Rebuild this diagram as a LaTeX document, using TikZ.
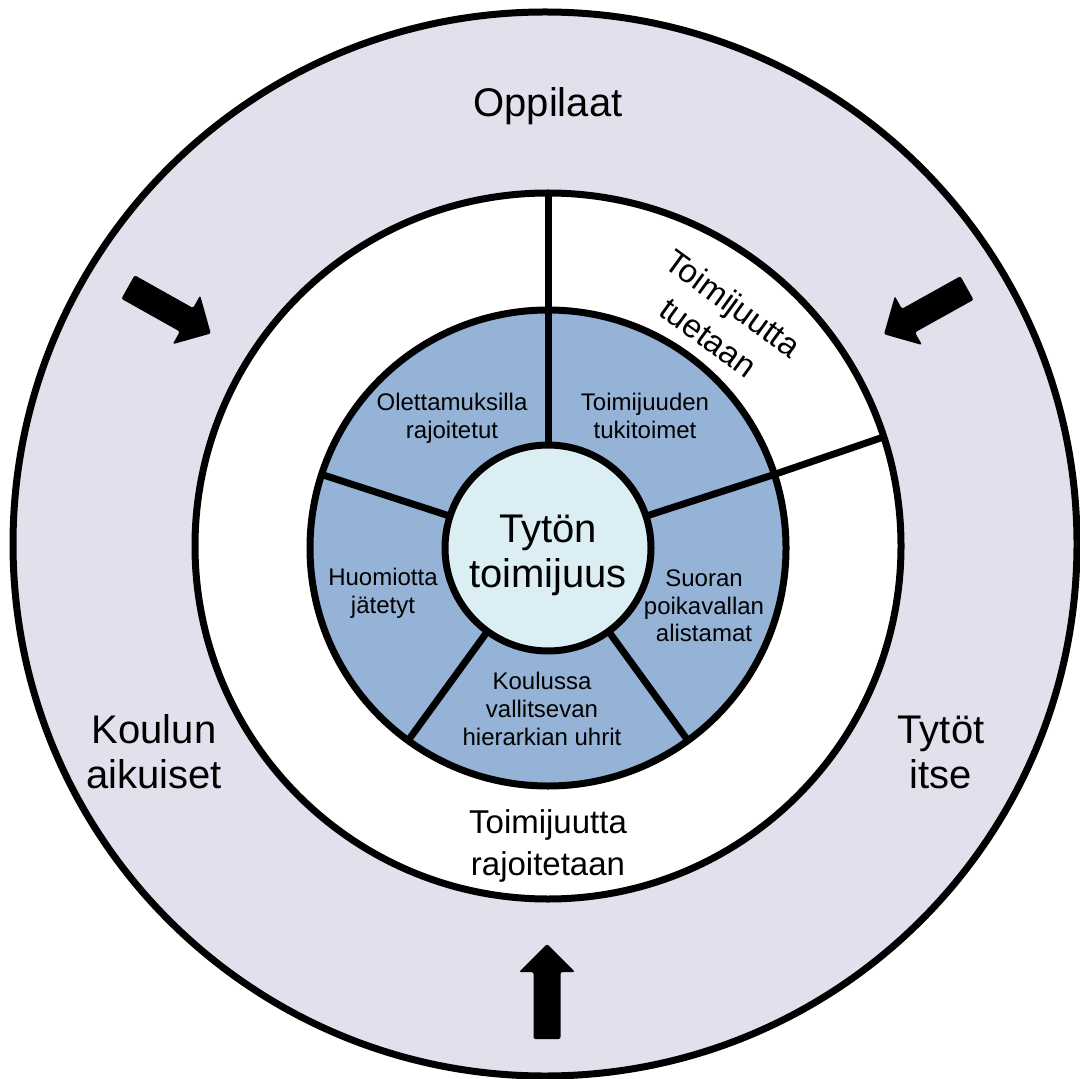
\documentclass[tikz,border=0pt]{standalone}
\usepackage{fontspec}
\setmainfont{Liberation Sans}
\definecolor{ringlila}{HTML}{E4DFEC}
\definecolor{sectorblue}{HTML}{95B3D7}
\definecolor{corecyan}{HTML}{DAEEF3}
\tikzset{
  ringline/.style={line width=3.5pt},
  disc/.style={circle,draw,ringline,inner sep=0pt,outer sep=0pt},
  biglabel/.style={font=\fontsize{20}{22.5}\selectfont,align=center,inner sep=0pt},
  midlabel/.style={font=\fontsize{16.5}{21}\selectfont,align=center,inner sep=0pt},
  smalllabel/.style={font=\fontsize{12}{13.8}\selectfont,align=center,inner sep=0pt},
  blockarrow/.pic={
    \fill[rounded corners=1pt] (0,-13.5) -- (67,-13.5) -- (67,-28) -- (95,0)
      -- (67,28) -- (67,13.5) -- (0,13.5) -- cycle;
  }
}
\begin{document}
\begin{tikzpicture}[x=0.5pt,y=-0.5pt]
  \useasboundingbox[fill=white] (0,0) rectangle (1080,1079);

  % rings
  \node[disc,fill=ringlila,minimum size=532pt] (outer) at (545,544) {};
  \node[disc,fill=white,minimum size=353pt] (ring) at (548,546) {};
  \node[disc,fill=sectorblue,minimum size=238pt] (sectors) at (548,548) {};
  \node[disc,fill=corecyan,minimum size=103pt] (core) at (548,548) {};
  \node[biglabel] (toimijuus) at (548,555) {Tytön\\toimijuus};

  % spokes
  \foreach \a in {90,18,-54,-126,162}
    \draw[ringline] (core.\a) -- (sectors.\a);
  \foreach \a in {90,18}
    \draw[ringline] (sectors.\a) -- (ring.\a);

  % outer texts
  \node[biglabel] (oppilaat) at (548,106) {Oppilaat};
  \node[biglabel] (aikuiset) at (154,752) {Koulun\\aikuiset};
  \node[biglabel] (tytot) at (941,752) {Tytöt\\itse};

  % middle ring texts
  \node[midlabel,rotate=-36] (tuetaan) at (721,320) {Toimijuutta\\tuetaan};
  \node[midlabel] (rajoitetaan) at (548,846) {Toimijuutta\\rajoitetaan};

  % sector texts
  \node[smalllabel] (olettamus) at (452,418) {Olettamuksilla\\rajoitetut};
  \node[smalllabel] (tukitoimet) at (645,416) {Toimijuuden\\tukitoimet};
  \node[smalllabel] (poikavalta) at (704,606) {Suoran\\poikavallan\\alistamat};
  \node[smalllabel] (hierarkia) at (542,709) {Koulussa\\vallitsevan\\hierarkian uhrit};
  \node[smalllabel] (huomiotta) at (383,593) {Huomiotta\\jätetyt};

  % arrows
  \pic[rotate=-29.3] at (128,287) {blockarrow};
  \pic[rotate=-150.9] at (967,288) {blockarrow};
  \pic[rotate=90] at (547,1039) {blockarrow};
\end{tikzpicture}
\end{document}
